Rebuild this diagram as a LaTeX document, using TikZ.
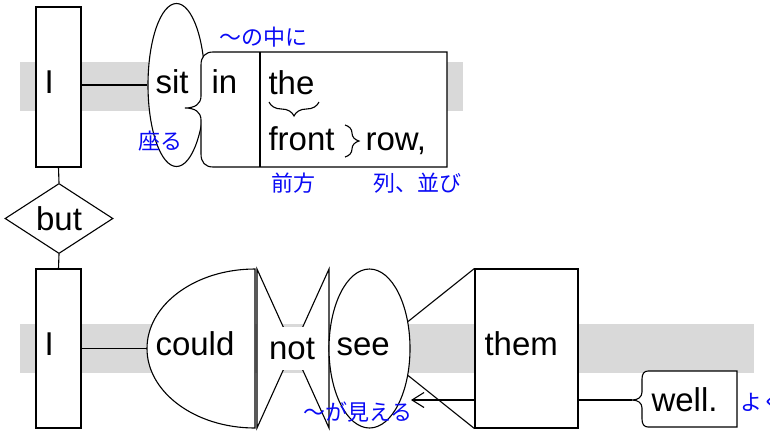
\documentclass[tikz,border=0pt]{standalone}
\usepackage{fontspec}
\setmainfont{Liberation Sans}
\newfontfamily\jpfont{Noto Sans CJK JP}
\usetikzlibrary{arrows.meta,positioning,calc,shapes.geometric,decorations.pathreplacing}
\definecolor{BandGray}{RGB}{217,217,217}
\definecolor{GlossBlue}{RGB}{10,10,245}

\begin{document}
\begin{tikzpicture}[x=1pt, y=-1pt, line width=1.1pt,
    word/.style={font=\fontsize{33}{38}\selectfont, inner sep=0pt, anchor=base west},
    gloss/.style={font=\jpfont\fontsize{22}{26}\selectfont, text=GlossBlue, inner sep=0pt},
    slot/.style={draw, fill=white, inner sep=0pt},
    band/.style={fill=BandGray}]
  \useasboundingbox (0,0) rectangle (770,432);
  \fill[band] (20,62) rectangle (463,111);
  \fill[band] (20,324) rectangle (754,373);
  % first clause
  \node[slot, minimum width=45, minimum height=160] (subjA) at (58.5,87) {};
  \node[slot, ellipse, minimum width=57, minimum height=163] (sit) at (176.5,85) {};
  \draw (subjA.east |- sit.west) -- (sit.west);
  \draw[slot] (213,52) -- (447,52) -- (447,167) -- (213,167)
      .. controls (205,167) and (201,162) .. (201,154) -- (201,120)
      .. controls (201,112) and (195,108) .. (185,108)
      .. controls (195,108) and (201,104) .. (201,96) -- (201,65)
      .. controls (201,57) and (205,52) .. (213,52) -- cycle;
  \draw (260,52) -- (260,167);
  \node[word] (wSubjA) at (44,93) {I};
  \node[word] (wSit) at (155,93) {sit};
  \node[word] (wIn) at (211,93) {in};
  \node[word] (wThe) at (268,94) {the};
  \node[word] (wFront) at (268,150) {front};
  \node[word] (wRow) at (365,150) {row,};
  \draw[decorate, decoration={brace, mirror, amplitude=14pt}] (269,102) -- (319,102);
  \draw[decorate, decoration={brace, amplitude=14pt}] (345,125) -- (345,157);
  \node[gloss] (gIn) at (263,37) {〜の中に};
  \node[gloss] (gSit) at (160.5,141) {座る};
  \node[gloss] (gFront) at (293,183) {前方};
  \node[gloss] (gRow) at (417,183) {列、並び};
  % conjunction
  \node[slot, diamond, minimum width=108, minimum height=65, font=\fontsize{33}{38}\selectfont] (but) at (59,218.5) {but};
  \node[slot, minimum width=45, minimum height=159] (subjB) at (58.5,348.5) {};
  \draw (subjA.south) -- (but.north);
  \draw (but.south) -- (subjB.north);
  % second clause
  \coordinate (couldW) at (147,348.5);
  \draw (subjB.east |- couldW) -- (couldW);
  \draw[slot] (255,269) arc[start angle=270, end angle=90, x radius=108, y radius=79.5] -- cycle;
  \coordinate (notTL) at (257,269);
  \coordinate (notBL) at (257,428);
  \coordinate (notTR) at (329,269);
  \coordinate (notBR) at (329,428);
  \coordinate (notC) at (293,348.5);
  \filldraw[fill=white] (notTL) -- (notC) -- (notBL) -- cycle;
  \filldraw[fill=white] (notTR) -- (notC) -- (notBR) -- cycle;
  \node[word, anchor=center, fill=white, minimum height=43, inner xsep=4pt] (wNot) at (292,348.5) {not};
  \node[slot, ellipse, minimum width=81, minimum height=159] (see) at (369.5,348.5) {};
  \node[slot, minimum width=103, minimum height=159] (them) at (526.5,348.5) {};
  \draw (see.35) -- (them.north west);
  \draw (see.-35) -- (them.south west);
  \coordinate (seeEnd) at (411,400);
  \draw[-{Straight Barb[length=12pt,width=15pt]}] (them.west |- seeEnd) -- (seeEnd);
  \coordinate (wellTip) at (632,400);
  \draw (them.east |- wellTip) -- (wellTip);
  \draw[slot] (648,371) -- (737,371) -- (737,427) -- (648,427)
      .. controls (644,427) and (642,424) .. (642,419) -- (642,408)
      .. controls (642,403) and (638,400) .. (632,400)
      .. controls (638,400) and (642,397) .. (642,392) -- (642,379)
      .. controls (642,374) and (644,371) .. (648,371) -- cycle;
  \node[word] (wSubjB) at (44,355) {I};
  \node[word] (wCould) at (155,355) {could};
  \node[word] (wSee) at (336,355) {see};
  \node[word] (wThem) at (484,355) {them};
  \node[word] (wWell) at (651,411) {well.};
  \node[gloss] (gSee) at (358,412) {〜が見える};
  \node[gloss] (gWell) at (762,402) {よく};
\end{tikzpicture}
\end{document}
